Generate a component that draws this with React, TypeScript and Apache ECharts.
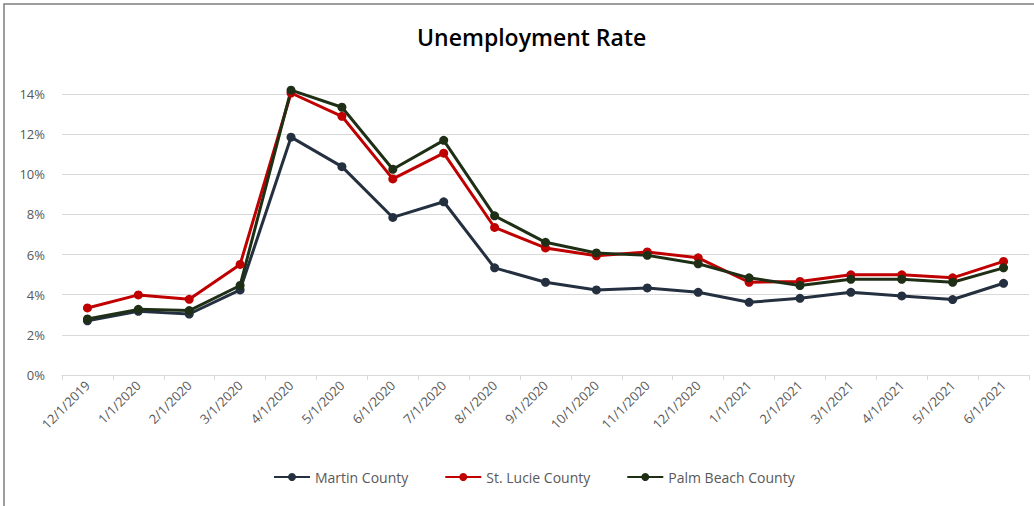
import React, { useEffect, useRef } from "react";
import * as echarts from "echarts";

const categories = [
  "12/1/2019", "1/1/2020", "2/1/2020", "3/1/2020", "4/1/2020", "5/1/2020",
  "6/1/2020", "7/1/2020", "8/1/2020", "9/1/2020", "10/1/2020", "11/1/2020",
  "12/1/2020", "1/1/2021", "2/1/2021", "3/1/2021", "4/1/2021", "5/1/2021", "6/1/2021",
];

const martin = [2.7, 3.17, 3.04, 4.24, 11.85, 10.38, 7.85, 8.63, 5.34, 4.62, 4.24, 4.34, 4.12, 3.62, 3.82, 4.12, 3.94, 3.76, 4.57];
const stLucie = [3.34, 3.99, 3.77, 5.51, 14.05, 12.89, 9.77, 11.05, 7.35, 6.33, 5.94, 6.13, 5.84, 4.62, 4.66, 4.99, 4.99, 4.84, 5.66];
const palmBeach = [2.79, 3.27, 3.21, 4.46, 14.19, 13.34, 10.25, 11.69, 7.93, 6.61, 6.08, 5.96, 5.54, 4.84, 4.46, 4.77, 4.77, 4.62, 5.34];

const seriesNames = ["Martin County", "St. Lucie County", "Palm Beach County"];
const seriesColors = ["#243040", "#C00000", "#1F2F16"];

export default function App() {
  const ref = useRef<HTMLDivElement>(null);
  useEffect(() => {
    document.body.style.margin = "0";
    const chart = echarts.init(ref.current!, null, { renderer: "svg" });
    const data = [martin, stLucie, palmBeach];
    const font = "'Open Sans', sans-serif";
    chart.setOption({
      animation: false,
      backgroundColor: "#ffffff",
      title: {
        text: "Unemployment Rate",
        left: 412,
        top: 20,
        textStyle: { fontFamily: font, fontWeight: 600, fontSize: 23, color: "#000000" },
      },
      graphic: [
        {
          type: "rect",
          shape: { x: 4, y: 4, width: 1200, height: 700 },
          style: { fill: "none", stroke: "#7f7f7f", lineWidth: 1.5 },
          silent: true,
        },
      ],
      legend: {
        bottom: 17,
        left: 268,
        itemWidth: 36,
        itemHeight: 10,
        itemGap: 36,
        textStyle: { fontFamily: font, fontSize: 14, color: "#595959" },
        data: seriesNames,
      },
      grid: { left: 62, right: 5, top: 94, bottom: 131, containLabel: false },
      xAxis: {
        type: "category",
        data: categories,
        boundaryGap: true,
        axisLine: { lineStyle: { color: "#d9d9d9", width: 1 } },
        axisTick: { show: true, alignWithLabel: false, length: 5, lineStyle: { color: "#d9d9d9" } },
        axisLabel: {
          rotate: 45,
          interval: 0,
          fontFamily: font,
          fontSize: 13,
          color: "#595959",
          margin: 8,
        },
      },
      yAxis: {
        type: "value",
        min: 0,
        max: 14,
        interval: 2,
        axisLine: { show: false },
        axisTick: { show: false },
        axisLabel: {
          formatter: (v: number) => v + "%",
          fontFamily: font,
          fontSize: 13,
          color: "#595959",
          margin: 17,
        },
        splitLine: { lineStyle: { color: "#d9d9d9", width: 1 } },
      },
      series: seriesNames.map((name, i) => ({
        name,
        type: "line",
        data: data[i],
        clip: false,
        symbol: "circle",
        symbolSize: 9,
        lineStyle: { color: seriesColors[i], width: 3 },
        itemStyle: { color: seriesColors[i] },
      })),
    });
    return () => chart.dispose();
  }, []);
  return <div ref={ref} style={{ width: 1034, height: 506 }} />;
}
